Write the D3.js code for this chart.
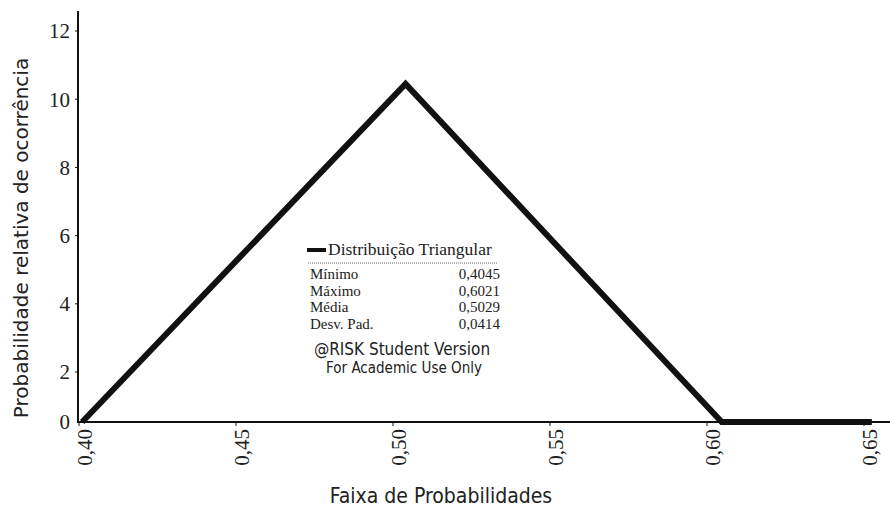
<!DOCTYPE html>
<html lang="pt">
<head>
  <meta charset="UTF-8">
  <title>Distribuição Triangular</title>
  <script src="https://d3js.org/d3.v7.min.js"></script>
  <style>
    body { margin: 0; background: #fff; }
    svg { display: block; background: #fff; }
    .tick-label { font-family: "Liberation Serif", "Times New Roman", serif; font-size: 21px; fill: #222; }
    .axis-title { font-family: "DejaVu Sans", sans-serif; font-size: 20px; fill: #222; }
    .legend { font-family: "Liberation Serif", "Times New Roman", serif; font-size: 15px; fill: #222; }
    .watermark { font-family: "DejaVu Sans Condensed", "DejaVu Sans", sans-serif; fill: #222; }
  </style>
</head>
<body>
<svg width="890" height="510"></svg>

<script>
  // pontos da curva
  const xValues = [0.401, 0.504, 0.6047, 0.6525];
  const yValues = [0, 10.45, 0, 0];

  const xTicks = [0.40, 0.45, 0.50, 0.55, 0.60, 0.65];
  const yTicks = [0, 2, 4, 6, 8, 10, 12];

  const serieName = "Distribuição Triangular";
  const statLabels = ["Mínimo", "Máximo", "Média", "Desv. Pad."];
  const statValues = ["0,4045", "0,6021", "0,5029", "0,0414"];

  const svg = d3.select("svg");
  const fmt = d => d3.format(".2f")(d).replace(".", ",");

  const x = d3.scaleLinear().domain([0.40, 0.65]).range([79, 864]);
  // o eixo original não é uniforme perto do zero
  const y = d3.scaleLinear().domain([0, 2, 12]).range([422, 372, 31]);

  // eixo Y
  svg.append("line")
      .attr("x1", 78).attr("x2", 78)
      .attr("y1", 11).attr("y2", 423)
      .attr("stroke", "#111").attr("stroke-width", 2);

  svg.append("g").selectAll("line")
    .data(yTicks.slice(1))
    .join("line")
      .attr("x1", 75).attr("x2", 78)
      .attr("y1", d => y(d)).attr("y2", d => y(d))
      .attr("stroke", "#111");

  svg.append("g").selectAll("text")
    .data(yTicks)
    .join("text")
      .attr("class", "tick-label")
      .attr("x", 70)
      .attr("y", d => y(d))
      .attr("dy", "0.35em")
      .attr("text-anchor", "end")
      .text(d => d);

  // eixo X
  svg.append("line")
      .attr("x1", 77).attr("x2", 890)
      .attr("y1", 422).attr("y2", 422)
      .attr("stroke", "#111").attr("stroke-width", 2);

  svg.append("g").selectAll("line")
    .data(xTicks)
    .join("line")
      .attr("x1", d => x(d)).attr("x2", d => x(d))
      .attr("y1", 422).attr("y2", 426)
      .attr("stroke", "#111");

  svg.append("g").selectAll("text")
    .data(xTicks)
    .join("text")
      .attr("class", "tick-label")
      .attr("transform", d => `translate(${x(d) + 6},429) rotate(-90)`)
      .attr("dy", "0.35em")
      .attr("text-anchor", "end")
      .text(fmt);

  // títulos
  svg.append("text")
      .attr("class", "axis-title")
      .attr("transform", "translate(28,238) rotate(-90)")
      .attr("text-anchor", "middle")
      .text("Probabilidade relativa de ocorrência");

  svg.append("text")
      .attr("class", "axis-title")
      .attr("x", 441).attr("y", 503)
      .attr("text-anchor", "middle")
      .style("font-family", "'DejaVu Sans Condensed', 'DejaVu Sans', sans-serif")
      .style("font-size", "21px")
      .text("Faixa de Probabilidades");

  // curva
  const line = d3.line()
      .x((d, i) => x(xValues[i]))
      .y(d => y(d));

  svg.append("path")
      .datum(yValues)
      .attr("d", line)
      .attr("fill", "none")
      .attr("stroke", "#111")
      .attr("stroke-width", 6)
      .attr("stroke-linejoin", "miter");

  // legenda
  const lg = svg.append("g");
  lg.append("line")
      .attr("x1", 307).attr("x2", 326)
      .attr("y1", 250).attr("y2", 250)
      .attr("stroke", "#111").attr("stroke-width", 4);
  lg.append("text")
      .attr("class", "legend")
      .attr("x", 328).attr("y", 255)
      .style("font-size", "17.5px")
      .text(serieName);
  lg.append("line")
      .attr("x1", 308).attr("x2", 498)
      .attr("y1", 263).attr("y2", 263)
      .attr("stroke", "#666").attr("stroke-width", 1)
      .attr("stroke-dasharray", "1,1");

  statLabels.forEach((lab, i) => {
    lg.append("text")
        .attr("class", "legend")
        .attr("x", 310).attr("y", 279 + i * 16.6)
        .text(lab);
    lg.append("text")
        .attr("class", "legend")
        .attr("x", 500).attr("y", 279 + i * 16.6)
        .attr("text-anchor", "end")
        .text(statValues[i]);
  });

  lg.append("text")
      .attr("class", "watermark")
      .attr("x", 402).attr("y", 355)
      .attr("text-anchor", "middle")
      .attr("font-size", 17)
      .text("@RISK Student Version");
  lg.append("text")
      .attr("class", "watermark")
      .attr("x", 404).attr("y", 373)
      .attr("text-anchor", "middle")
      .attr("font-size", 15)
      .text("For Academic Use Only");
</script>
</body>
</html>
